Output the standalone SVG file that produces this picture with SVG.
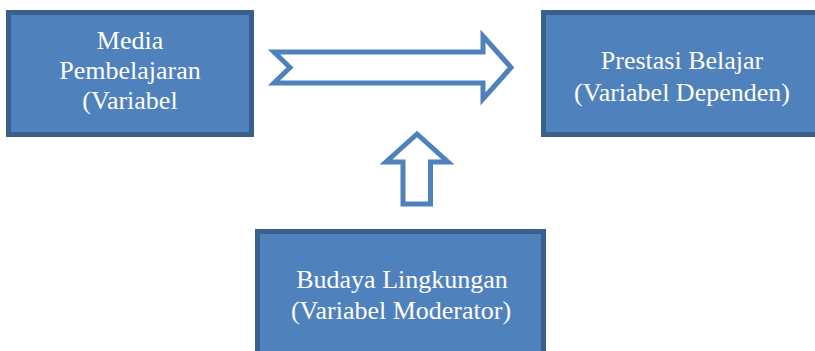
<svg xmlns="http://www.w3.org/2000/svg" width="815" height="351" viewBox="0 0 815 351">
  <style>
    .box { fill: #4F81BD; stroke: #3A5F8C; stroke-width: 5; }
    .lbl { font-family: "Liberation Serif", "Times New Roman", serif; font-size: 26px; fill: #FFFFFF; text-anchor: middle; }
    .arrow { fill: #FFFFFF; stroke: #4F81BD; stroke-width: 5; stroke-linejoin: miter; }
  </style>
  <rect width="815" height="351" fill="#FFFFFF"/>

  <g id="media-pembelajaran">
    <rect class="box" x="8.5" y="12.5" width="243" height="122"/>
    <text class="lbl" x="130" y="49">Media</text>
    <text class="lbl" x="130" y="79">Pembelajaran</text>
    <text class="lbl" x="130" y="109">(Variabel</text>
  </g>

  <g id="prestasi-belajar">
    <rect class="box" x="543.5" y="12.5" width="278" height="122"/>
    <text class="lbl" x="682" y="68.5">Prestasi Belajar</text>
    <text class="lbl" x="682" y="100.5">(Variabel Dependen)</text>
  </g>

  <g id="budaya-lingkungan">
    <rect class="box" x="257.5" y="231.5" width="286" height="130"/>
    <text class="lbl" x="402" y="288">Budaya Lingkungan</text>
    <text class="lbl" x="401" y="318.5">(Variabel Moderator)</text>
  </g>

  <g id="connectors">
    <path class="arrow" d="M274,52 H483 V36 L511,67.5 L483,99 V83 H274 L290,67.5 Z"/>
    <path class="arrow" d="M417,134 L448,162 H430.5 V204 H403 V162 H386 Z"/>
  </g>
</svg>
